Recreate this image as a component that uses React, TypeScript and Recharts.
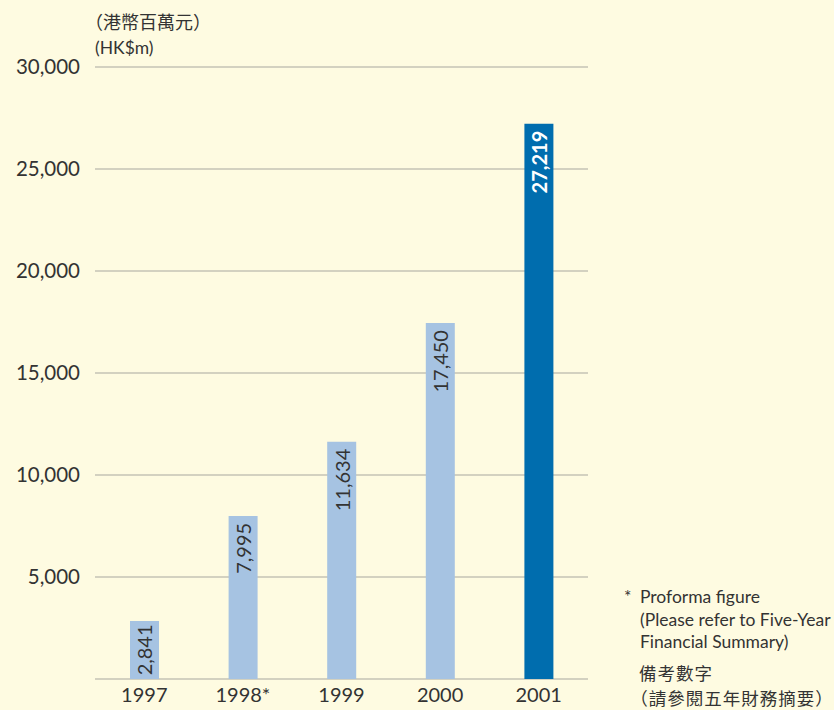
import React from 'react';
import { BarChart, Bar, XAxis, YAxis, CartesianGrid, Cell, LabelList } from 'recharts';

const years = ['1997', '1998*', '1999', '2000', '2001'];
const values = [2841, 7995, 11634, 17450, 27219];
const yTicks = [5000, 10000, 15000, 20000, 25000, 30000];
const highlightYear = '2001';
const unitLabelZh = '（港幣百萬元）';
const unitLabelEn = '(HK$m)';
const noteStar = '*';
const noteLinesEn = ['Proforma figure', '(Please refer to Five-Year', 'Financial Summary)'];
const noteLinesZh = ['備考數字', '（請參閱五年財務摘要）'];

const data = years.map((y, i) => ({ year: y, value: values[i] }));

const BG = '#FEFBE1';
const LIGHT = '#A6C3E2';
const DARK = '#006DAE';
const TEXT = '#333333';
const LATIN = 'Lato, "Open Sans", sans-serif';
const CJK = '"Noto Sans CJK TC", "Noto Sans CJK SC", sans-serif';

const fmt = (v: number) => v.toLocaleString('en-US');

const estWidth = (s: string, fs: number) => {
  let w = 0;
  for (const ch of s) w += ch === ',' ? 0.24 : 0.58;
  return w * fs;
};

const ValueLabel = (props: any) => {
  const { x, y, width, height, value } = props;
  const isHi = value === values[years.indexOf(highlightYear)];
  const fs = 20;
  const text = fmt(Number(value));
  const len = estWidth(text, fs);
  const pad = Math.max(2, Math.min(7, (height - len) / 2));
  const cx = x + width / 2;
  const ty = y + pad;
  return (
    <text
      x={cx}
      y={ty}
      transform={`rotate(-90 ${cx} ${ty})`}
      textAnchor="end"
      dominantBaseline="central"
      fontFamily={LATIN}
      fontSize={fs}
      fontWeight={isHi ? 700 : 400}
      fill={isHi ? '#FFFFFF' : TEXT}
    >
      {text}
    </text>
  );
};

export default function App() {
  return (
    <div style={{ position: 'absolute', left: 0, top: 0, width: 834, height: 710, background: BG, overflow: 'hidden' }}>
      <BarChart
        width={834}
        height={710}
        data={data}
        margin={{ top: 67, right: 246, left: 0, bottom: 0 }}
      >
        <CartesianGrid vertical={false} stroke="#A8A8A0" strokeWidth={1.2} />
        <XAxis
          dataKey="year"
          axisLine={false}
          tickLine={false}
          tickSize={0}
          tickMargin={9}
          height={31}
          interval={0}
          tick={{ fontSize: 20, fill: TEXT, fontFamily: LATIN }}
        />
        <YAxis
          width={95}
          domain={[0, 30000]}
          ticks={yTicks}
          axisLine={false}
          tickLine={false}
          tickSize={0}
          tickMargin={15}
          tickFormatter={fmt}
          tick={{ fontSize: 20.5, fill: TEXT, fontFamily: LATIN }}
        />
        <Bar dataKey="value" barSize={29} isAnimationActive={false}>
          {data.map((d) => (
            <Cell key={d.year} fill={d.year === highlightYear ? DARK : LIGHT} />
          ))}
          <LabelList dataKey="value" content={ValueLabel} />
        </Bar>
      </BarChart>
      <svg
        width={834}
        height={710}
        style={{ position: 'absolute', left: 0, top: 0, pointerEvents: 'none' }}
      >
        <text x={94} y={29} fontFamily={CJK} fontSize={18} fill={TEXT} style={{ fontFeatureSettings: '"halt"' }}>
          {unitLabelZh}
        </text>
        <text x={95} y={54} fontFamily={LATIN} fontSize={17.5} fill={TEXT}>
          {unitLabelEn}
        </text>
        <text x={624} y={603} fontFamily={LATIN} fontSize={17.5} fill={TEXT}>
          {noteStar}
        </text>
        {noteLinesEn.map((line, i) => (
          <text key={line} x={640} y={603 + i * 22.5} fontFamily={LATIN} fontSize={17.5} fill={TEXT}>
            {line}
          </text>
        ))}
        {noteLinesZh.map((line, i) => (
          <text
            key={line}
            x={639}
            y={680 + i * 25}
            fontFamily={CJK}
            fontSize={17.5}
            letterSpacing={1}
            fill={TEXT}
            style={{ fontFeatureSettings: '"halt"' }}
          >
            {line}
          </text>
        ))}
      </svg>
    </div>
  );
}
